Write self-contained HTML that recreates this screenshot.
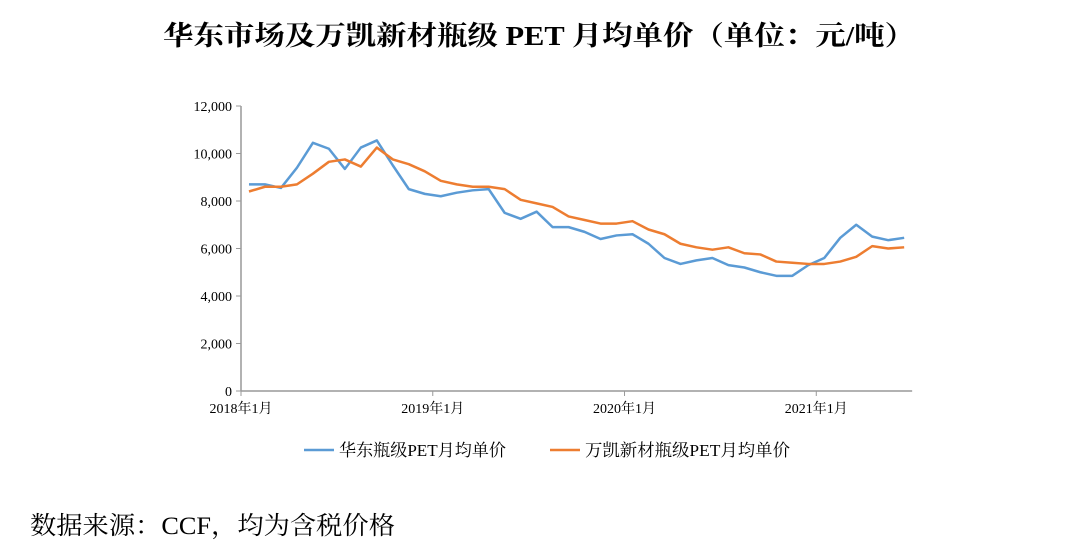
<!DOCTYPE html>
<html><head><meta charset="utf-8"><style>
body{margin:0;background:#fff;width:1080px;height:550px;overflow:hidden}
svg text{font-family:"Liberation Serif","Noto Serif CJK SC","Noto Sans CJK SC",serif}
</style></head><body>
<svg id="chart" width="1080" height="550">
<text x="539" y="45" text-anchor="middle" font-size="27" font-weight="bold" textLength="752" lengthAdjust="spacingAndGlyphs">华东市场及万凯新材瓶级 PET 月均单价（单位：元/吨）</text>
<g id="axes"></g>
<g id="series"></g>
<g>
<line x1="304" y1="450" x2="334" y2="450" stroke="#5b9bd5" stroke-width="2.5"/>
<text x="339" y="456" font-size="17" textLength="167" lengthAdjust="spacingAndGlyphs">华东瓶级PET月均单价</text>
<line x1="550" y1="450" x2="580" y2="450" stroke="#ed7d31" stroke-width="2.5"/>
<text x="585" y="456" font-size="17" textLength="205" lengthAdjust="spacingAndGlyphs">万凯新材瓶级PET月均单价</text>
</g>
<text x="30" y="534" font-size="25" textLength="365" lengthAdjust="spacingAndGlyphs">数据来源：CCF，均为含税价格</text>
</svg>
<script>
const yTicks=[0,2000,4000,6000,8000,10000,12000];
const yTickLabels=["0","2,000","4,000","6,000","8,000","10,000","12,000"];
const xTickLabels=["2018年1月","2019年1月","2020年1月","2021年1月"];
const eastChina=[8700,8700,8550,9400,10450,10200,9350,10250,10550,9500,8500,8300,
8200,8350,8450,8500,7500,7250,7550,6900,6900,6700,6400,6550,
6600,6200,5600,5350,5500,5600,5300,5200,5000,4850,4850,5300,
5600,6450,7000,6500,6350,6450];
const wankai=[8400,8600,8600,8700,9150,9650,9750,9450,10250,9750,9550,9250,
8850,8700,8600,8600,8500,8050,7900,7750,7350,7200,7050,7050,
7150,6800,6600,6200,6050,5950,6050,5800,5750,5450,5400,5350,
5350,5450,5650,6100,6000,6050];
const ns="http://www.w3.org/2000/svg";
const x0=241,mw=15.98,yb=391,yt=106,ymax=12000;
const xPos=i=>x0+(i+0.5)*mw;
const yPos=v=>yb-(v/ymax)*(yb-yt);
const ax=document.getElementById('axes'),se=document.getElementById('series');
function mk(t,a,p){const e=document.createElementNS(ns,t);for(const k in a)e.setAttribute(k,a[k]);p.appendChild(e);return e;}
let yl=mk('line',{x1:x0,y1:yt,x2:x0,y2:yb,stroke:'#999','stroke-width':1.5},ax);


let xl=mk('line',{x1:x0,y1:yb,x2:x0+42*mw,y2:yb,stroke:'#999','stroke-width':1.5},ax);


yTicks.forEach((v,i)=>{
 mk('line',{x1:x0-5,y1:yPos(v),x2:x0,y2:yPos(v),stroke:'#999'},ax);
 const t=mk('text',{x:x0-9,y:yPos(v)+5,'text-anchor':'end','font-size':14},ax);
 t.textContent=yTickLabels[i];
 
 
});
xTickLabels.forEach((s,i)=>{
 const x=x0+i*12*mw;
 mk('line',{x1:x,y1:yb,x2:x,y2:yb+5,stroke:'#999'},ax);
 const t=mk('text',{x:x,y:yb+22,'text-anchor':'middle','font-size':14},ax);
 t.textContent=s;
 
 
});
function line(d,c,n){
 const p=mk('polyline',{points:d.map((v,i)=>xPos(i)+','+yPos(v)).join(' '),fill:'none',stroke:c,'stroke-width':2.5,'stroke-linejoin':'round'},se);
 
 
}
line(eastChina,'#5b9bd5','line-east-china');
line(wankai,'#ed7d31','line-wankai');
</script>
</body></html>
